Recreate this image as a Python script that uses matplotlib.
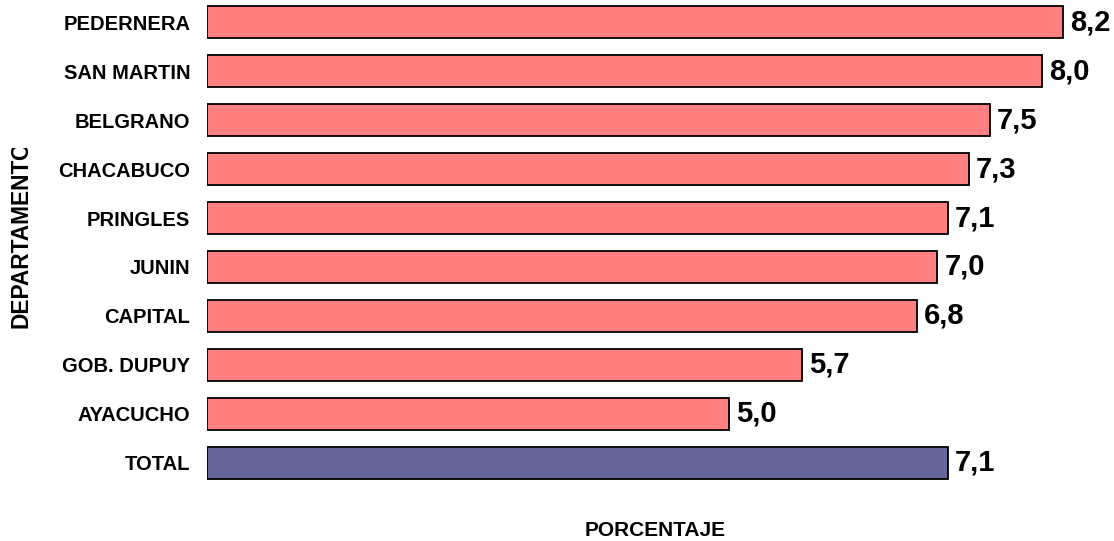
import matplotlib.pyplot as plt
from matplotlib.transforms import Bbox, TransformedBbox

plt.rcParams['font.family'] = ['Liberation Sans', 'DejaVu Sans']
plt.rcParams['font.weight'] = 'bold'

# data
departamentos = ['PEDERNERA', 'SAN MARTIN', 'BELGRANO', 'CHACABUCO', 'PRINGLES',
                 'JUNIN', 'CAPITAL', 'GOB. DUPUY', 'AYACUCHO', 'TOTAL']
porcentajes = [8.2, 8.0, 7.5, 7.3, 7.1, 7.0, 6.8, 5.7, 5.0, 7.1]
colores = ['#FF8080'] * 9 + ['#666699']

fig = plt.figure(figsize=(11.14, 5.41), dpi=100)
ax = fig.add_axes([207 / 1114, 1 - 485 / 541, 887 / 1114, 485 / 541])

pos = list(range(len(departamentos)))
ax.barh(pos, porcentajes, height=0.65, color=colores, edgecolor='black', linewidth=1.3)

for y, v in zip(pos, porcentajes):
    ax.text(v + 0.07, y, ('%.1f' % v).replace('.', ','), va='center', ha='left',
            fontsize=21, fontweight='bold')

ax.set_xlim(0, 8.5)
ax.set_ylim(9.45, -0.45)
ax.set_yticks(pos)
ax.set_yticklabels(departamentos, fontsize=14.5, fontweight='bold')
ax.tick_params(axis='y', length=0, pad=12)
ax.set_xticks([])
for s in ax.spines.values():
    s.set_visible(False)

fig.text(655 / 1114, 1 - 530 / 541, 'PORCENTAJE', ha='center', va='center',
         fontsize=15, fontweight='bold')

# y label, top of the last letter is cut off like in the original
yl = fig.text(21 / 1114, 1 - 234 / 541, 'DEPARTAMENTO', rotation=90, ha='center',
              va='center', fontsize=16.4, fontweight='bold')
yl.set_clip_box(TransformedBbox(Bbox([[0, 0], [1, 1 - 148 / 541]]), fig.transFigure))
yl.set_clip_on(True)

fig.savefig('out.png', dpi=100)
